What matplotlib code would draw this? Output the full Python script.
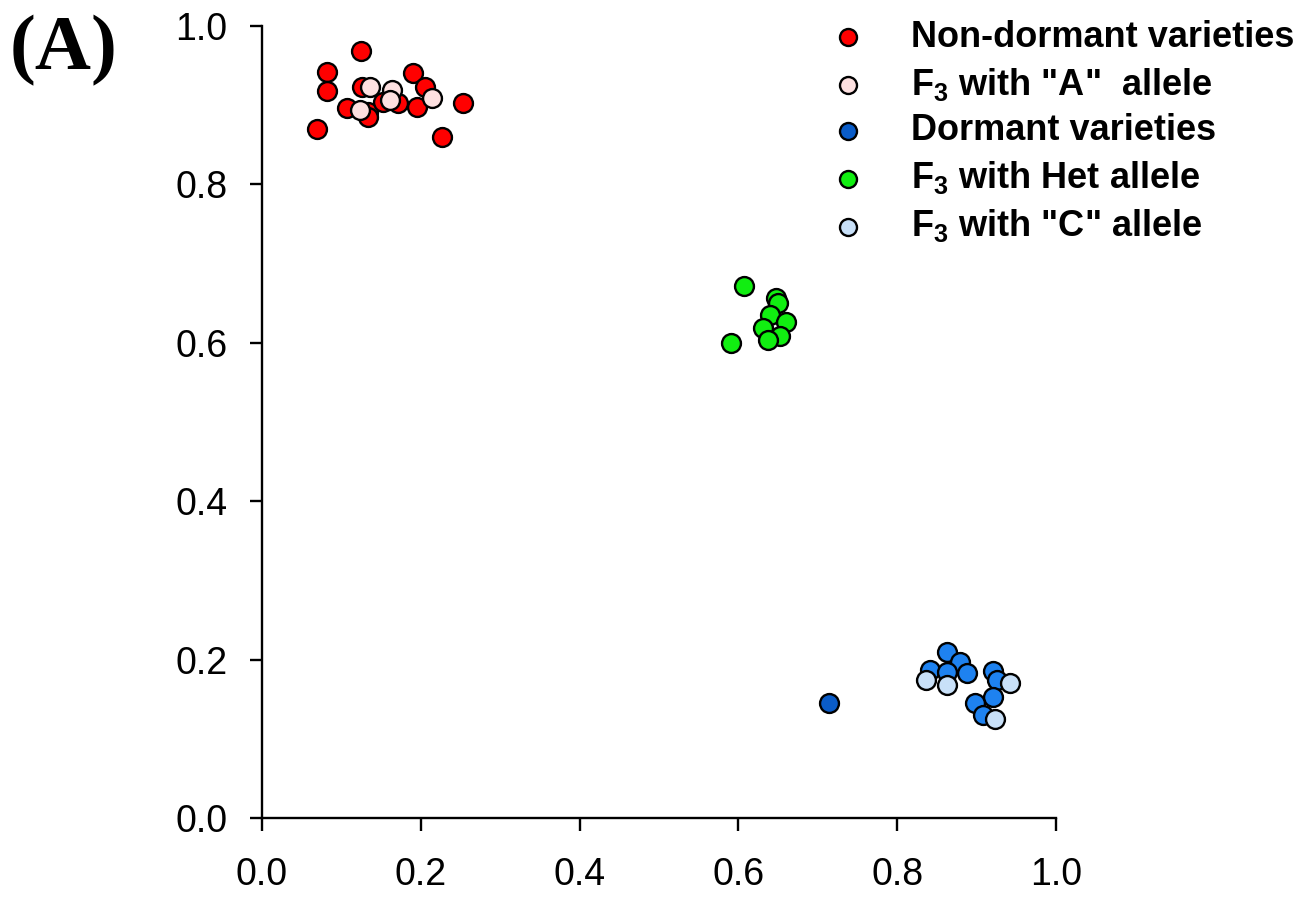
import matplotlib
matplotlib.use("Agg")
import matplotlib.pyplot as plt

plt.rcParams['font.family'] = ['Liberation Sans', 'DejaVu Sans']
plt.rcParams['mathtext.fontset'] = 'custom'
plt.rcParams['mathtext.rm'] = 'Liberation Sans:bold'
plt.rcParams['mathtext.bf'] = 'Liberation Sans:bold'

# data
nondormant_x = [0.125, 0.082, 0.082, 0.107, 0.069, 0.126, 0.134, 0.134,
                0.152, 0.171, 0.190, 0.205, 0.195, 0.253, 0.227]
nondormant_y = [0.968, 0.942, 0.918, 0.896, 0.870, 0.923, 0.891, 0.885,
                0.904, 0.903, 0.941, 0.923, 0.898, 0.903, 0.860]

f3_a_x = [0.136, 0.123, 0.164, 0.161, 0.214]
f3_a_y = [0.923, 0.894, 0.919, 0.907, 0.909]

dormant_x = [0.714]
dormant_y = [0.145]

# bright blue points in the dormant cluster (not listed in the legend)
dormant_cluster_x = [0.863, 0.879, 0.841, 0.863, 0.888, 0.921, 0.926, 0.921, 0.898, 0.908]
dormant_cluster_y = [0.210, 0.197, 0.187, 0.184, 0.183, 0.186, 0.174, 0.153, 0.145, 0.130]

f3_het_x = [0.607, 0.591, 0.647, 0.650, 0.640, 0.660, 0.631, 0.652, 0.637]
f3_het_y = [0.672, 0.600, 0.657, 0.650, 0.635, 0.626, 0.619, 0.609, 0.604]

f3_c_x = [0.837, 0.863, 0.942, 0.923]
f3_c_y = [0.174, 0.168, 0.170, 0.125]

ticks = [0.0, 0.2, 0.4, 0.6, 0.8, 1.0]

fig = plt.figure(figsize=(13.1, 8.97), dpi=100)
ax = fig.add_axes([0.2, 0.0881, 0.606, 0.883])

ms = 185
ew = 1.7
ax.scatter(nondormant_x, nondormant_y, s=ms, c='#ff0000', edgecolors='black',
           linewidths=ew, label='Non-dormant varieties', zorder=3)
ax.scatter(f3_a_x, f3_a_y, s=ms, c='#fde0e0', edgecolors='black',
           linewidths=ew, label='F$_3$ with "A"  allele', zorder=3)
ax.scatter(dormant_x, dormant_y, s=ms, c='#0a5cc8', edgecolors='black',
           linewidths=ew, label='Dormant varieties', zorder=3)
ax.scatter(f3_het_x, f3_het_y, s=ms, c='#11ee11', edgecolors='black',
           linewidths=ew, label='F$_3$ with Het allele', zorder=3)
ax.scatter(dormant_cluster_x, dormant_cluster_y, s=ms, c='#1e82f0', edgecolors='black',
           linewidths=ew, label='_nolegend_', zorder=3)
ax.scatter(f3_c_x, f3_c_y, s=ms, c='#c8e0f8', edgecolors='black',
           linewidths=ew, label='F$_3$ with "C" allele', zorder=3)

ax.set_xlim(0, 1)
ax.set_ylim(0, 1)
ax.set_xticks(ticks)
ax.set_yticks(ticks)
ax.set_xticklabels(['%.1f' % t for t in ticks])
ax.set_yticklabels(['%.1f' % t for t in ticks])
ax.tick_params(direction='out', length=9, width=1.7, labelsize=27, pad=16)
ax.tick_params(axis='x', pad=19)
for side in ['top', 'right']:
    ax.spines[side].set_visible(False)
for side in ['left', 'bottom']:
    ax.spines[side].set_linewidth(1.7)
ax.patch.set_visible(False)

handles, labels = ax.get_legend_handles_labels()
fig.legend(handles, labels, loc='upper left', bbox_to_anchor=(0.636, 0.978),
           frameon=False, borderaxespad=0, borderpad=0, handlelength=0.8,
           handletextpad=1.35, labelspacing=0.3, markerscale=0.9,
           prop={'weight': 'bold', 'size': 26})

fig.text(0.007, 0.944, '(A)', family='Liberation Serif', fontweight='bold',
         fontsize=56, va='center', ha='left')

fig.savefig('out.png', dpi=100)
